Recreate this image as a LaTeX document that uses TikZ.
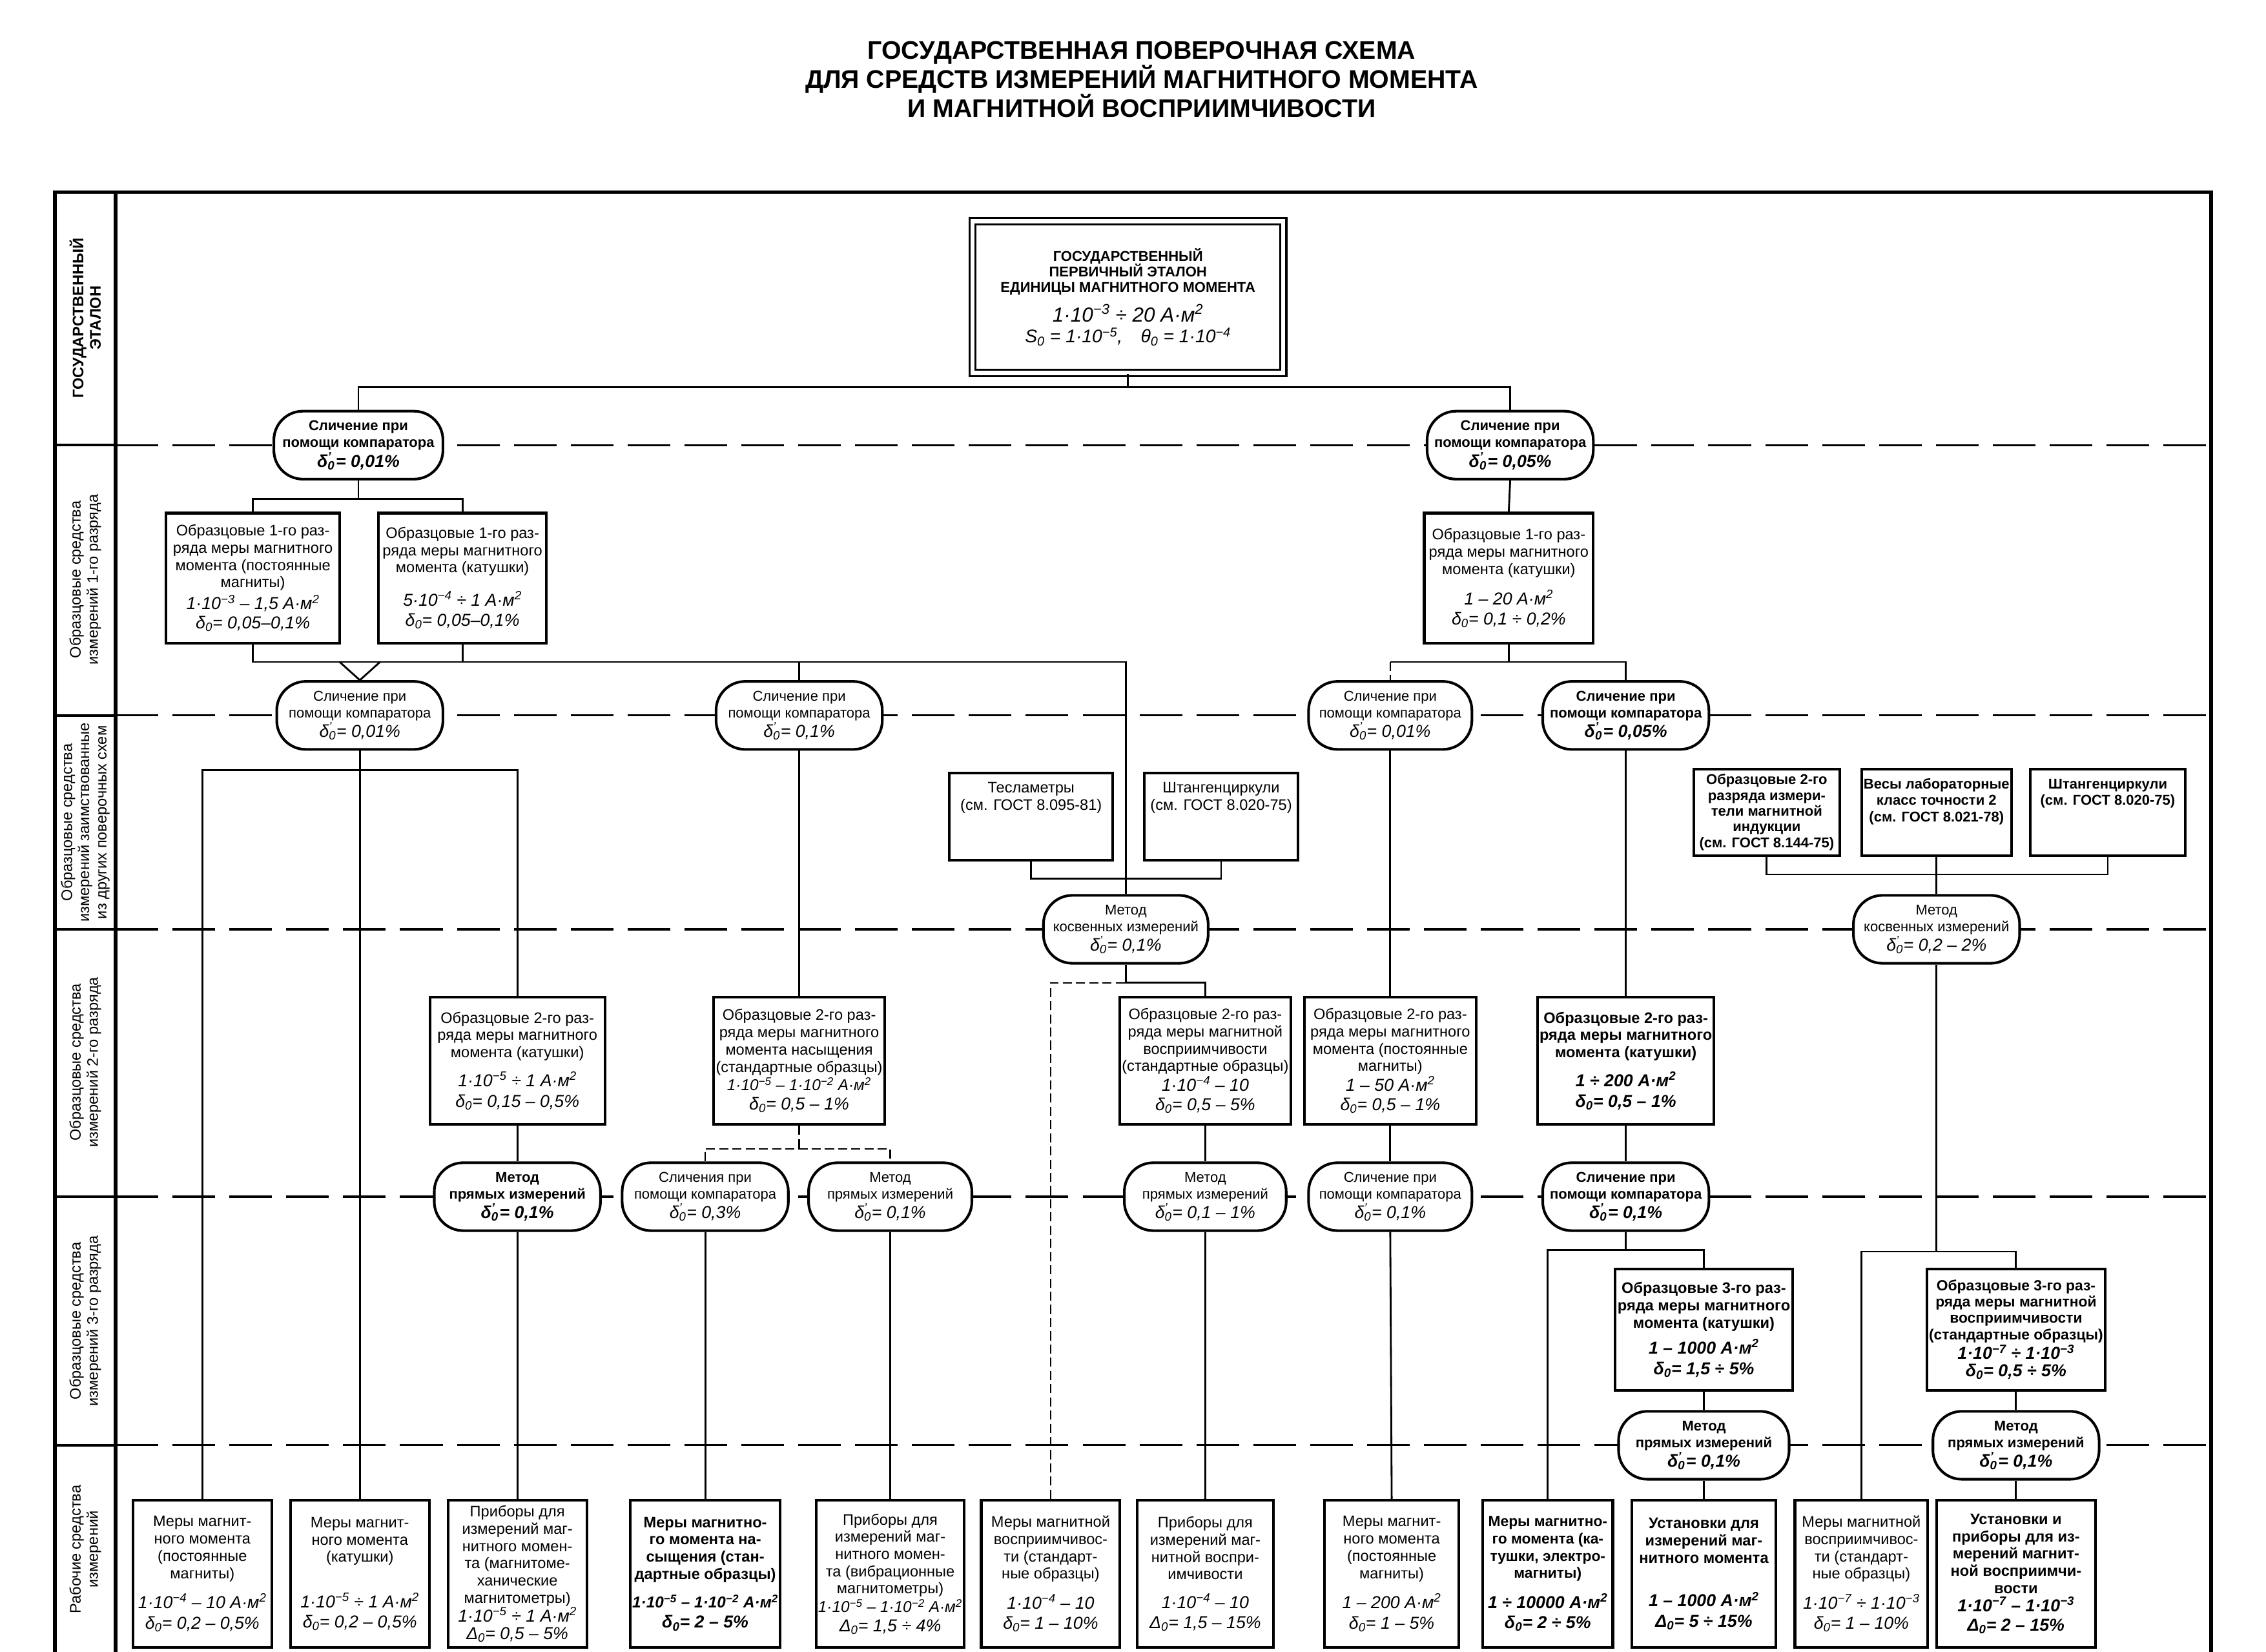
\documentclass[tikz,border=0pt]{standalone}
\usepackage{fontspec}
\setmainfont{Liberation Sans}

\newcommand{\fml}[1]{{\fontsize{17}{19}\selectfont\itshape #1}}
\newcommand{\fmls}[1]{{\fontsize{15.5}{18}\selectfont\itshape #1}}
\newcommand{\tp}[1]{10\textsuperscript{−#1}}
\newcommand{\am}{А·м\textsuperscript{2}}
\newcommand{\dz}{δ\textsubscript{0}}
\newcommand{\dzp}{δ\rlap{\textsubscript{0}}\textsuperscript{’}\kern0.25em}
\newcommand{\Dz}{Δ\textsubscript{0}}

\begin{document}
\begin{tikzpicture}[x=0.05cm, y=-0.05cm,
    box/.style={draw, line width=2.6pt, fill=white, align=center, inner sep=2pt, font=\fontsize{15}{17}\selectfont},
    oval/.style={box, rounded corners=1cm, inner sep=1pt, font=\fontsize{14}{16.5}\selectfont},
    heavy/.style={execute at begin node=\bfseries},
    sz/.style 2 args={minimum width=#1*0.05cm, minimum height=#2*0.05cm},
    link/.style={line width=1.8pt},
    dlink/.style={line width=1.4pt, dash pattern=on 9pt off 4pt},
    sep/.style={line width=2pt, dash pattern=on 42pt off 14pt},
    frame/.style={line width=3.5pt},
    rowlab/.style={rotate=90, align=center, font=\fontsize{15}{17}\selectfont}]

    \useasboundingbox (0,0) rectangle (1568,1143);

    % Title
    \node[font=\fontsize{25}{25}\selectfont\bfseries, align=center] (title) at (790,55)
        {ГОСУДАРСТВЕННАЯ ПОВЕРОЧНАЯ СХЕМА\\ДЛЯ СРЕДСТВ ИЗМЕРЕНИЙ МАГНИТНОГО МОМЕНТА\\И МАГНИТНОЙ ВОСПРИИМЧИВОСТИ};

    % Frame and row separators
    \draw[frame] (38,1143) -- (38,133) -- (1530,133) -- (1530,1143);
    \draw[frame] (80,133) -- (80,1143);
    \foreach \y in {308,495,643,828,1000} {
        \draw[line width=2.5pt] (38,\y) -- (80,\y);
        \draw[sep] (80,\y) -- (1530,\y);
    }

    % Row labels
    \foreach \y/\lbl [count=\i] in {220/{\textbf{ГОСУДАРСТВЕННЫЙ}\\\textbf{ЭТАЛОН}},
        401/{Образцовые средства\\измерений 1-го разряда},
        569/{Образцовые средства\\измерений заимствованные\\из других поверочных схем},
        735/{Образцовые средства\\измерений 2-го разряда},
        914/{Образцовые средства\\измерений 3-го разряда},
        1072/{Рабочие средства\\измерений}} {
        \node[rowlab] (lab\i) at (59,\y) {\lbl};
    }

    % State primary standard
    \node[box, sz={215}{105}, double, double distance=4pt, line width=2pt, font=\fontsize{14}{15.5}\selectfont] (etalon) at (780.5,205.5)
        {\textbf{ГОСУДАРСТВЕННЫЙ}\\\textbf{ПЕРВИЧНЫЙ ЭТАЛОН}\\\textbf{ЕДИНИЦЫ МАГНИТНОГО МОМЕНТА}\\[8pt]
         {\fontsize{20}{22}\selectfont\itshape 1·\tp{3} ÷ 20 \am}\\[5pt]
         {\fontsize{18}{20}\selectfont\itshape S\textsubscript{0} = 1·\tp{5},\quad θ\textsubscript{0} = 1·\tp{4}}};

    % 1st grade
    \node[oval, heavy, sz={117}{47}] (C1) at (248,308) {Сличение при\\помощи компаратора\\[1pt]\fml{\dzp = 0,01\%}};
    \node[oval, heavy, sz={115}{47}] (C2) at (1045,308) {Сличение при\\помощи компаратора\\[1pt]\fml{\dzp = 0,05\%}};
    \node[box, sz={120}{90}] (B1a) at (175,400) {Образцовые 1-го раз-\\ряда меры магнитного\\момента (постоянные\\магниты)\\[3pt]\fml{1·\tp{3} – 1,5 \am}\\[2pt]\fml{\dz = 0,05–0,1\%}};
    \node[box, sz={116}{90}] (B1b) at (320,400) {Образцовые 1-го раз-\\ряда меры магнитного\\момента (катушки)\\[14pt]\fml{5·\tp{4} ÷ 1 \am}\\[3pt]\fml{\dz = 0,05–0,1\%}};
    \node[box, sz={117}{90}] (B1c) at (1044,400) {Образцовые 1-го раз-\\ряда меры магнитного\\момента (катушки)\\[11pt]\fml{1 – 20 \am}\\[3pt]\fml{\dz = 0,1 ÷ 0,2\%}};

    % Comparisons
    \node[oval, sz={115}{47}] (C3) at (249,495) {Сличение при\\помощи компаратора\\[1pt]\fml{\dzp = 0,01\%}};
    \node[oval, sz={115}{47}] (C4) at (553,495) {Сличение при\\помощи компаратора\\[1pt]\fml{\dzp = 0,1\%}};
    \node[oval, sz={113}{47}] (C5) at (962,495) {Сличение при\\помощи компаратора\\[1pt]\fml{\dzp = 0,01\%}};
    \node[oval, heavy, sz={115}{47}] (C6) at (1125,495) {Сличение при\\помощи компаратора\\[1pt]\fml{\dzp = 0,05\%}};

    % Borrowed standards
    \node[box, sz={113}{60}] (T1) at (713.5,565) {Тесламетры\\(см. ГОСТ 8.095-81)\\\rule{0pt}{36pt}};
    \node[box, sz={106}{60}] (T2) at (845,565) {Штангенциркули\\(см. ГОСТ 8.020-75)\\\rule{0pt}{36pt}};
    \node[box, heavy, sz={101}{60}, font=\fontsize{14}{15.5}\selectfont] (T3) at (1222.5,562) {Образцовые 2-го\\разряда измери-\\тели магнитной\\индукции\\(см. ГОСТ 8.144-75)};
    \node[box, heavy, sz={102}{60}, font=\fontsize{14}{16}\selectfont] (T4) at (1340,562) {Весы лабораторные\\класс точности 2\\(см. ГОСТ 8.021-78)\\\rule{0pt}{20pt}};
    \node[box, heavy, sz={107}{60}, font=\fontsize{14}{16}\selectfont] (T5) at (1458.5,562) {Штангенциркули\\(см. ГОСТ 8.020-75)\\\rule{0pt}{36pt}};
    \node[oval, sz={114}{47}] (M1) at (779,643) {Метод\\косвенных измерений\\[1pt]\fml{\dzp = 0,1\%}};
    \node[oval, sz={115}{47}] (M2) at (1340,643) {Метод\\косвенных измерений\\[1pt]\fml{\dzp = 0,2 – 2\%}};

    % 2nd grade
    \node[box, sz={121}{88}] (b2a) at (358,734) {Образцовые 2-го раз-\\ряда меры магнитного\\момента (катушки)\\[10pt]\fml{1·\tp{5} ÷ 1 \am}\\[3pt]\fml{\dz = 0,15 – 0,5\%}};
    \node[box, sz={118}{88}] (b2b) at (553,734) {Образцовые 2-го раз-\\ряда меры магнитного\\момента насыщения\\(стандартные образцы)\\[1pt]\fmls{1·\tp{5} – 1·\tp{2} \am}\\[2pt]\fml{\dz = 0,5 – 1\%}};
    \node[box, sz={118}{88}] (b2c) at (834,734) {Образцовые 2-го раз-\\ряда меры магнитной\\восприимчивости\\(стандартные образцы)\\[1pt]\fml{1·\tp{4} – 10}\\[2pt]\fml{\dz = 0,5 – 5\%}};
    \node[box, sz={119}{88}] (b2d) at (962,734) {Образцовые 2-го раз-\\ряда меры магнитного\\момента (постоянные\\магниты)\\[1pt]\fml{1 – 50 \am}\\[2pt]\fml{\dz = 0,5 – 1\%}};
    \node[box, heavy, sz={118}{88}] (b2e) at (1125,734) {Образцовые 2-го раз-\\ряда меры магнитного\\момента (катушки)\\[10pt]\fml{1 ÷ 200 \am}\\[3pt]\fml{\dz = 0,5 – 1\%}};

    \node[oval, heavy, sz={115}{47}] (D1) at (358,828) {Метод\\прямых измерений\\[1pt]\fml{\dzp = 0,1\%}};
    \node[oval, sz={115}{47}] (D2) at (488,828) {Сличения при\\помощи компаратора\\[1pt]\fml{\dzp = 0,3\%}};
    \node[oval, sz={113}{47}] (D3) at (616,828) {Метод\\прямых измерений\\[1pt]\fml{\dzp = 0,1\%}};
    \node[oval, sz={112}{47}] (D4) at (834,828) {Метод\\прямых измерений\\[1pt]\fml{\dzp = 0,1 – 1\%}};
    \node[oval, sz={113}{47}] (D5) at (962,828) {Сличение при\\помощи компаратора\\[1pt]\fml{\dzp = 0,1\%}};
    \node[oval, heavy, sz={115}{47}] (D6) at (1125,828) {Сличение при\\помощи компаратора\\[1pt]\fml{\dzp = 0,1\%}};

    % 3rd grade
    \node[box, heavy, sz={123}{84}] (b3a) at (1179,920) {Образцовые 3-го раз-\\ряда меры магнитного\\момента (катушки)\\[7pt]\fml{1 – 1000 \am}\\[3pt]\fml{\dz = 1,5 ÷ 5\%}};
    \node[box, heavy, sz={116}{84}, font=\fontsize{14.5}{16}\selectfont] (b3b) at (1395,920) {Образцовые 3-го раз-\\ряда меры магнитной\\восприимчивости\\(стандартные образцы)\\[1pt]\fml{1·\tp{7} ÷ 1·\tp{3}}\\[1pt]\fml{\dz = 0,5 ÷ 5\%}};
    \node[oval, heavy, sz={118}{47}] (E1) at (1179,1000) {Метод\\прямых измерений\\[1pt]\fml{\dzp = 0,1\%}};
    \node[oval, heavy, sz={115}{47}] (E2) at (1395,1000) {Метод\\прямых измерений\\[1pt]\fml{\dzp = 0,1\%}};

    % Working instruments
    \node[box, sz={96}{102}] (W1) at (140,1089) {Меры магнит-\\ного момента\\(постоянные\\магниты)\\[11pt]\fml{1·\tp{4} – 10 \am}\\[3pt]\fml{\dz = 0,2 – 0,5\%}};
    \node[box, sz={96}{102}] (W2) at (249,1089) {Меры магнит-\\ного момента\\(катушки)\\[26pt]\fml{1·\tp{5} ÷ 1 \am}\\[3pt]\fml{\dz = 0,2 – 0,5\%}};
    \node[box, sz={96}{102}] (W3) at (358,1089) {Приборы для\\измерений маг-\\нитного момен-\\та (магнитоме-\\ханические\\магнитометры)\\[0pt]\fml{1·\tp{5} ÷ 1 \am}\\[0pt]\fml{\Dz = 0,5 – 5\%}};
    \node[box, heavy, sz={98}{102}] (W4) at (488,1089) {Меры магнитно-\\го момента на-\\сыщения (стан-\\дартные образцы)\\[11pt]\fmls{1·\tp{5} – 1·\tp{2} \am}\\[3pt]\fml{\dz = 2 – 5\%}};
    \node[box, sz={96}{102}] (W5) at (616,1089) {Приборы для\\измерений маг-\\нитного момен-\\та (вибрационные\\магнитометры)\\[1pt]\fmls{1·\tp{5} – 1·\tp{2} \am}\\[2pt]\fml{\Dz = 1,5 ÷ 4\%}};
    \node[box, sz={96}{102}] (W6) at (727,1089) {Меры магнитной\\восприимчивос-\\ти (стандарт-\\ные образцы)\\[11pt]\fml{1·\tp{4} – 10}\\[3pt]\fml{\dz = 1 – 10\%}};
    \node[box, sz={94}{102}] (W7) at (834,1089) {Приборы для\\измерений маг-\\нитной воспри-\\имчивости\\[11pt]\fml{1·\tp{4} – 10}\\[3pt]\fml{\Dz = 1,5 – 15\%}};
    \node[box, sz={93}{102}] (W8) at (963,1089) {Меры магнит-\\ного момента\\(постоянные\\магниты)\\[11pt]\fml{1 – 200 \am}\\[3pt]\fml{\dz = 1 – 5\%}};
    \node[box, heavy, sz={90}{102}, font=\fontsize{14.5}{17}\selectfont] (W9) at (1071,1089) {Меры магнитно-\\го момента (ка-\\тушки, электро-\\магниты)\\[11pt]\fml{1 ÷ 10000 \am}\\[3pt]\fml{\dz = 2 ÷ 5\%}};
    \node[box, heavy, sz={100}{102}] (W10) at (1179,1089) {Установки для\\измерений маг-\\нитного момента\\[26pt]\fml{1 – 1000 \am}\\[3pt]\fml{\Dz = 5 ÷ 15\%}};
    \node[box, sz={92}{102}] (W11) at (1288,1089) {Меры магнитной\\восприимчивос-\\ти (стандарт-\\ные образцы)\\[11pt]\fml{1·\tp{7} ÷ 1·\tp{3}}\\[3pt]\fml{\dz = 1 – 10\%}};
    \node[box, heavy, sz={110}{102}] (W12) at (1395,1089) {Установки и\\приборы для из-\\мерений магнит-\\ной восприимчи-\\вости\\[1pt]\fml{1·\tp{7} – 1·\tp{3}}\\[2pt]\fml{\Dz = 2 – 15\%}};

    % Junctions
    \coordinate (j0) at (780.5,268);
    \coordinate (j1) at (248,345);
    \coordinate (j2) at (779,458);
    \coordinate (v1) at (235,458);
    \coordinate (v2) at (263,458);
    \coordinate (j3) at (1044,458);
    \coordinate (j4) at (249,533);
    \coordinate (j6) at (779,608);
    \coordinate (j7) at (1340,605);
    \coordinate (j5) at (779,680);
    \coordinate (j9) at (553,795);
    \coordinate (j10) at (1125,865);
    \coordinate (j8) at (1340,866);

    % Connectors
    \draw[link] (etalon.south) -- (j0);
    \draw[link] (C1.north) |- (j0) -| (C2.north);
    \draw[link] (C1.south) -- (j1);
    \draw[link] (B1a.north) |- (j1) -| (B1b.north);
    \draw[link] (C2.south) -- (B1c.north);
    \draw[link] (B1a.south) |- (j2) -- (M1.north);
    \draw[link] (B1b.south) -- (B1b.south |- j2);
    \draw[link] (v1) -- (C3.north) -- (v2);
    \draw[link] (C4.north) -- (C4.north |- j2);
    \draw[link] (B1c.south) -- (j3) -| (C6.north);
    \draw[link] (j3) -- (C5.north |- j3);
    \draw[dlink] (C5.north |- j3) -- (C5.north);

    \draw[link] (C3.south) -- (W2.north);
    \draw[link] (W1.north) |- (j4) -| (b2a.north);
    \draw[link] (C4.south) -- (b2b.north);
    \draw[link] (C5.south) -- (b2d.north);
    \draw[link] (C6.south) -- (b2e.north);

    \draw[link] (T1.south) |- (j6) -| (T2.south);
    \draw[link] (T3.south) |- (j7) -| (T5.south);
    \draw[link] (T4.south) -- (M2.north);

    \draw[link] (M1.south) -- (j5) -| (b2c.north);
    \draw[dlink] (W6.north) |- (j5);
    \draw[link] (M2.south) -- (j8);
    \draw[link] (W11.north) |- (j8) -| (b3b.north);

    \draw[link] (b2a.south) -- (D1.north);
    \draw[link] (D1.south) -- (W3.north);
    \draw[dlink] (b2b.south) -- (j9);
    \draw[dlink] (D2.north) |- (j9) -| (D3.north);
    \draw[link] (D2.south) -- (W4.north);
    \draw[link] (D3.south) -- (W5.north);
    \draw[link] (b2c.south) -- (D4.north);
    \draw[link] (D4.south) -- (W7.north);
    \draw[link] (b2d.south) -- (D5.north);
    \draw[link] (D5.south) -- (W8.north);
    \draw[link] (b2e.south) -- (D6.north);
    \draw[link] (D6.south) -- (j10);
    \draw[link] (W9.north) |- (j10) -| (b3a.north);
    \draw[link] (b3a.south) -- (E1.north);
    \draw[link] (E1.south) -- (W10.north);
    \draw[link] (b3b.south) -- (E2.north);
    \draw[link] (E2.south) -- (W12.north);

\end{tikzpicture}
\end{document}
